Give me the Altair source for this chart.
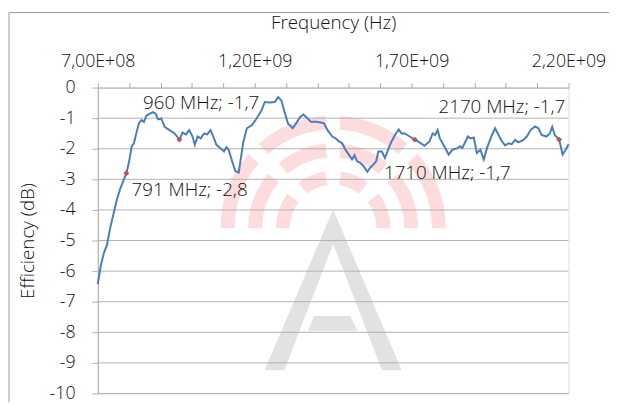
import math
import altair as alt
import pandas as pd

# ---------------- data ----------------
freq_mhz = [700, 710, 719, 729, 740, 750, 761, 771, 791, 800, 808, 815, 824, 831, 839, 847, 855, 866,
            876, 884, 892, 902, 913, 928, 944, 960, 970, 981, 991, 1002, 1009, 1018, 1028, 1039, 1049,
            1059, 1068, 1078, 1091, 1102, 1110, 1117, 1128, 1138, 1149, 1156, 1164, 1175, 1191, 1206,
            1222, 1232, 1248, 1264, 1275, 1285, 1295, 1306, 1321, 1332, 1345, 1355, 1369, 1379, 1395,
            1411, 1421, 1432, 1447, 1458, 1468, 1479, 1489, 1500, 1510, 1518, 1526, 1536, 1547, 1559,
            1568, 1578, 1587, 1594, 1605, 1615, 1625, 1636, 1647, 1659, 1668, 1678, 1694, 1710, 1725,
            1741, 1757, 1767, 1775, 1783, 1790, 1804, 1818, 1830, 1846, 1854, 1861, 1869, 1879, 1887,
            1898, 1908, 1919, 1930, 1940, 1956, 1966, 1977, 1988, 1998, 2009, 2019, 2030, 2040, 2056,
            2067, 2079, 2093, 2104, 2114, 2130, 2140, 2148, 2156, 2170, 2174, 2181, 2191, 2200]
eff_db = [-6.42, -5.80, -5.42, -5.15, -4.56, -4.13, -3.65, -3.32, -2.80, -2.41, -1.92, -1.82, -1.44,
          -1.17, -1.06, -1.12, -0.92, -0.85, -0.80, -0.85, -1.04, -1.01, -1.28, -1.39, -1.49, -1.70,
          -1.47, -1.53, -1.39, -1.60, -1.87, -1.60, -1.66, -1.50, -1.53, -1.39, -1.60, -1.87, -1.98,
          -2.09, -1.95, -2.03, -2.41, -2.73, -2.78, -2.30, -1.76, -1.33, -1.23, -1.01, -0.74, -0.47,
          -0.49, -0.47, -0.31, -0.42, -0.80, -1.17, -1.33, -1.17, -0.96, -0.88, -1.01, -1.12, -1.12,
          -1.14, -1.17, -1.39, -1.60, -1.66, -1.76, -1.82, -2.03, -2.19, -2.35, -2.21, -2.41, -2.46,
          -2.57, -2.75, -2.62, -2.52, -2.41, -2.09, -2.09, -2.30, -2.03, -1.76, -1.55, -1.37, -1.50,
          -1.50, -1.60, -1.70, -1.79, -1.90, -1.76, -1.50, -1.55, -1.39, -1.66, -1.92, -2.19, -2.03,
          -1.98, -1.92, -1.98, -1.82, -1.60, -1.66, -1.63, -2.14, -2.03, -2.35, -1.98, -1.55, -1.33,
          -1.55, -1.76, -1.89, -1.82, -1.85, -1.71, -1.79, -1.71, -1.60, -1.39, -1.27, -1.33, -1.55,
          -1.60, -1.50, -1.28, -1.55, -1.70, -1.87, -2.19, -2.03, -1.85]

marker_mhz = [791, 960, 1710, 2170]
marker_db = [-2.8, -1.7, -1.7, -1.7]
marker_text = ["791 MHz; -2,8", "960 MHz; -1,7", "1710 MHz; -1,7", "2170 MHz; -1,7"]

x_tick_values = list(range(700, 2201, 100))
x_label_values = [700, 1200, 1700, 2200]
x_label_text = ["7,00E+08", "1,20E+09", "1,70E+09", "2,20E+09"]
y_tick_values = list(range(-10, 1))

# ---------------- layout / style ----------------
W, H = 477, 310
PAD = {"left": 91, "top": 78, "right": 41, "bottom": 9}
XMIN, XMAX = 700, 2200
YMIN, YMAX = -10, 0
FONT = "Open Sans"
FW = 300
TXT = "#111111"
GRID = "#b2b2b2"

label_expr = ""
for v, t in zip(x_label_values, x_label_text):
    label_expr += f"datum.value == {v} ? '{t}' : "
label_expr += "''"

xscale = alt.Scale(domain=[XMIN, XMAX], nice=False, zero=False)
yscale = alt.Scale(domain=[YMIN, YMAX], nice=False, zero=False)

x_enc = alt.X("f:Q", scale=xscale, title="Frequency (Hz)",
              axis=alt.Axis(orient="top", values=x_tick_values, labelExpr=label_expr,
                            grid=False, domainColor="#a8a8a8", tickColor="#a8a8a8",
                            tickSize=5, labelPadding=12, titlePadding=21,
                            labelFlush=False, labelOverlap=False,
                            labelFont=FONT, labelFontSize=18, labelFontWeight=FW, labelColor=TXT,
                            titleFont=FONT, titleFontSize=19, titleFontWeight=FW, titleColor=TXT))
y_enc = alt.Y("e:Q", scale=yscale, title="Efficiency (dB)",
              axis=alt.Axis(values=y_tick_values, labelExpr="'' + datum.value",
                            grid=False, domainColor="#a8a8a8", tickColor=GRID,
                            tickSize=6, labelPadding=17, titlePadding=12,
                            labelFont=FONT, labelFontSize=18, labelFontWeight=FW, labelColor=TXT,
                            titleFont=FONT, titleFontSize=19, titleFontWeight=FW, titleColor=TXT))


def px_to_f(px):
    return XMIN + px * (XMAX - XMIN) / W


def py_to_e(py):
    return YMAX - py * (YMAX - YMIN) / H


# ---------------- watermark (decoration) ----------------
cx, cy = W / 2, 142.5
rings = [(44, 58), (72, 86), (100, 114)]
arc_rows = []
for r0, r1 in rings:
    g = math.asin(7.0 / ((r0 + r1) / 2))
    q = math.pi / 4
    segs = [(6 * q, 7 * q - g), (7 * q + g, 8 * q - g), (g, q - g), (q + g, 2 * q)]
    for a0, a1 in segs:
        arc_rows.append({"t0": a0, "t1": a1, "r0": r0, "r1": r1})
arcs = alt.Chart(pd.DataFrame(arc_rows)).mark_arc(color="#fcdcdc").encode(
    theta=alt.Theta("t0:Q", scale=None),
    theta2="t1:Q",
    radius=alt.Radius("r1:Q", scale=None),
    radius2="r0:Q",
    x=alt.value(cx),
    y=alt.value(cy),
)

base_y = 286.5
a_px = [169, 189, 238.5, 288, 308]
a_top = [base_y, base_y - 20 * 163 / 69.5, 123.5, base_y - 20 * 163 / 69.5, base_y]
a_bot = [base_y, base_y, 158.5, base_y, base_y]
a_df = pd.DataFrame({"f": [px_to_f(p) for p in a_px],
                     "e": [py_to_e(p) for p in a_top],
                     "e2": [py_to_e(p) for p in a_bot]})
bar_px = [213, 219, 256, 263]
bar_top = [246.5, 231.5, 231.5, 246.5]
bar_bot = [246.5, 246.5, 246.5, 246.5]
bar_df = pd.DataFrame({"f": [px_to_f(p) for p in bar_px],
                       "e": [py_to_e(p) for p in bar_top],
                       "e2": [py_to_e(p) for p in bar_bot]})
a_leg = alt.Chart(a_df).mark_area(color="#e2e2e2", opacity=1).encode(x=x_enc, y=y_enc, y2="e2:Q")
a_bar = alt.Chart(bar_df).mark_area(color="#e2e2e2", opacity=1).encode(x=x_enc, y=y_enc, y2="e2:Q")

# ---------------- chart ----------------
grid = alt.Chart(pd.DataFrame({"e": y_tick_values[:-1]})).mark_rule(
    color=GRID, strokeWidth=1).encode(y=y_enc)

df = pd.DataFrame({"f": freq_mhz, "e": eff_db})
line = alt.Chart(df).mark_line(color="#4a7ebb", strokeWidth=2).encode(x=x_enc, y=y_enc)

mk = pd.DataFrame({"f": marker_mhz, "e": marker_db, "t": marker_text})
points = alt.Chart(mk).mark_point(shape="diamond", filled=True, color="#c0504d",
                                  size=36, opacity=1).encode(x=x_enc, y=y_enc)

offsets = [(64, 17), (22, -37), (33, 34), (-58, -33)]
texts = []
for i, (dx, dy) in enumerate(offsets):
    texts.append(alt.Chart(mk.iloc[[i]]).mark_text(
        dx=dx, dy=dy, align="center", baseline="middle", font=FONT, fontSize=19,
        fontWeight=FW, color=TXT
    ).encode(x=x_enc, y=y_enc, text="t:N"))

# outer chart frame (decoration): top and left edges
frame_top = alt.Chart(pd.DataFrame({"e": [0]})).mark_rule(color="#9c9c9c", strokeWidth=1).encode(
    x=alt.value(-90), x2=alt.value(W + PAD["right"]), y=alt.value(-76))
frame_left = alt.Chart(pd.DataFrame({"e": [0]})).mark_rule(color="#9c9c9c", strokeWidth=1).encode(
    x=alt.value(-90), y=alt.value(-76), y2=alt.value(H + PAD["bottom"]))

chart = alt.layer(frame_top, frame_left, arcs, a_leg, a_bar, grid, line, points, *texts).properties(
    width=W, height=H,
    autosize=alt.AutoSizeParams(type="none"),
    padding=PAD,
).configure_view(stroke=None).configure(background="white")

chart.save("out.html", embed_options={"renderer": "svg", "actions": False})
